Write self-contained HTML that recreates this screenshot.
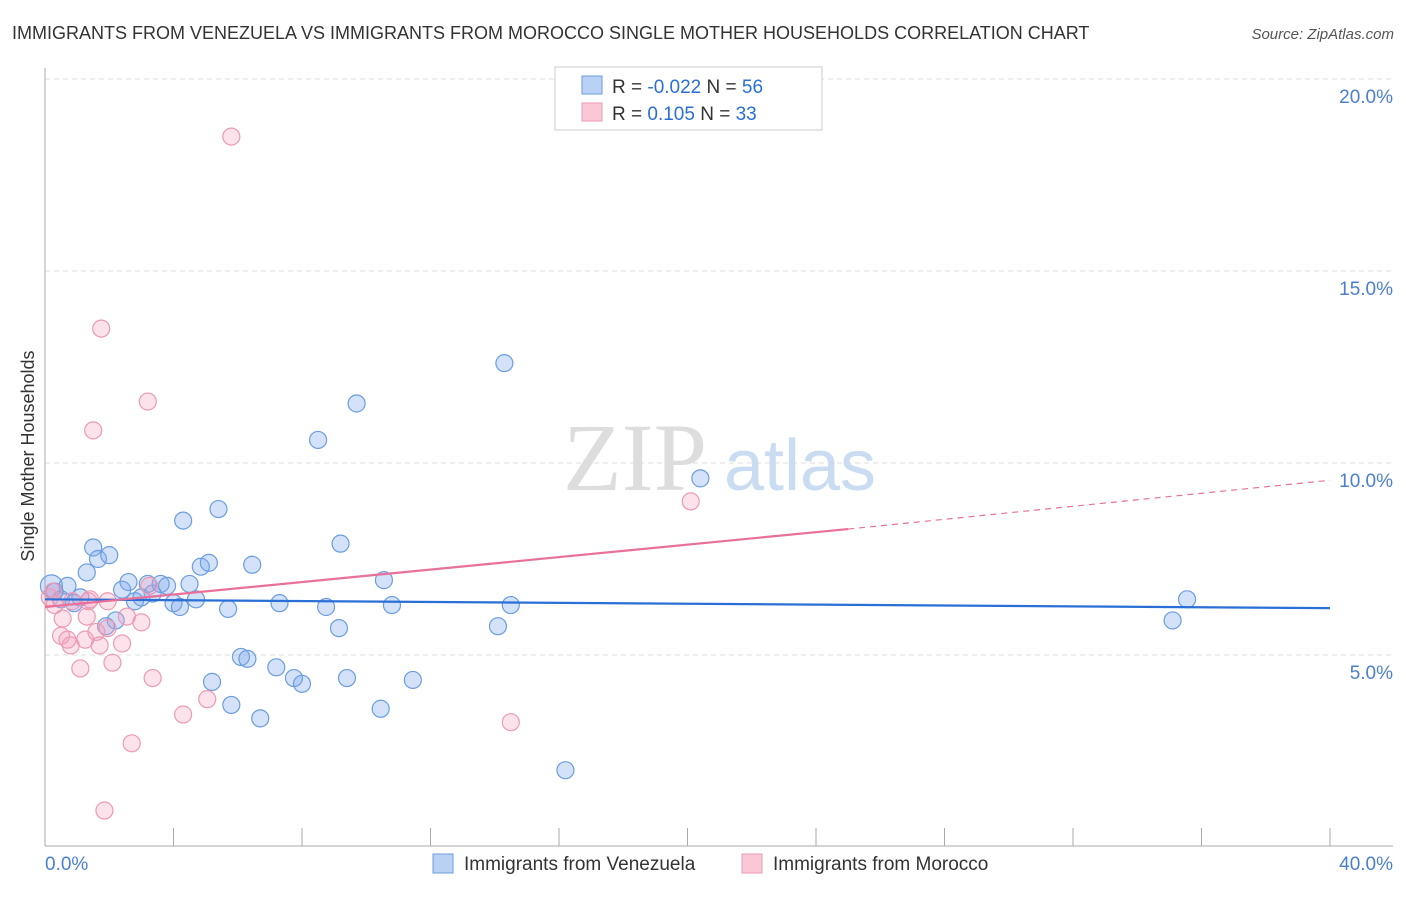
<!DOCTYPE html>
<html><head><meta charset="utf-8">
<style>
body{margin:0;background:#fff;font-family:"Liberation Sans",sans-serif;}
</style></head>
<body>
<svg id="chart" width="1406" height="892" xmlns="http://www.w3.org/2000/svg" style="font-family:'Liberation Sans',sans-serif">
<text x="12" y="39" font-size="18" fill="#333">IMMIGRANTS FROM VENEZUELA VS IMMIGRANTS FROM MOROCCO SINGLE MOTHER HOUSEHOLDS CORRELATION CHART</text>
<text x="1394" y="39" font-size="15" fill="#555" font-style="italic" text-anchor="end">Source: ZipAtlas.com</text>
<g id="grid"></g>
<g><text x="635" y="490" font-size="96" font-family="'Liberation Serif',serif" fill="#ddd" text-anchor="middle">ZIP</text><text x="800" y="490" font-size="72" fill="#c9dcf2" text-anchor="middle">atlas</text></g>
<text transform="translate(34,456) rotate(-90)" font-size="18" fill="#333" text-anchor="middle">Single Mother Households</text>
<g id="marks"></g>
<g>
<rect x="555" y="67" width="267" height="63" fill="#fff" stroke="#ccc"/>
<rect x="582" y="76" width="20" height="18" fill="#b8d1f5" stroke="#6b9de0"/>
<rect x="582" y="103" width="20" height="18" fill="#f9c8d7" stroke="#ec9ab4"/>
<text x="612" y="93" font-size="19" fill="#333">R = <tspan fill="#2a6fd6">-0.022</tspan>   N = <tspan fill="#2a6fd6">56</tspan></text>
<text x="612" y="120" font-size="19" fill="#333">R =   <tspan fill="#2a6fd6">0.105</tspan>   N = <tspan fill="#2a6fd6">33</tspan></text>
</g>
<g>
<rect x="433" y="854" width="20" height="19" fill="#b8d1f5" stroke="#6b9de0"/>
<text x="464" y="870" font-size="19" fill="#333">Immigrants from Venezuela</text>
<rect x="742" y="854" width="20" height="19" fill="#f9c8d7" stroke="#ec9ab4"/>
<text x="773" y="870" font-size="19" fill="#333">Immigrants from Morocco</text>
</g>
</svg>
<script>
const yTicks=[5,10,15,20];
const xTickLabels=["0.0%","40.0%"];
const venX=[0.2,0.3,0.5,0.7,0.9,1.1,1.3,1.5,1.65,2.0,2.2,1.9,2.4,2.6,2.8,3.0,3.2,3.35,3.6,3.8,4.0,4.2,4.3,4.5,4.7,4.85,5.1,5.4,5.7,5.2,5.8,6.1,6.3,6.45,6.7,7.2,7.3,7.75,8.0,8.5,8.75,9.2,9.15,9.4,9.7,10.45,10.55,10.8,11.45,14.1,14.3,14.5,16.2,20.4,35.1,35.55];
const venY=[6.8,6.65,6.45,6.8,6.35,6.5,7.15,7.8,7.5,7.6,5.9,5.75,6.7,6.9,6.4,6.5,6.85,6.6,6.85,6.8,6.35,6.25,8.5,6.85,6.45,7.3,7.4,8.8,6.2,4.3,3.7,4.95,4.9,7.35,3.35,4.68,6.35,4.4,4.25,10.6,6.25,7.9,5.7,4.4,11.55,3.6,6.95,6.3,4.35,5.75,12.6,6.3,2.0,9.6,5.9,6.45];
const morX=[0.15,0.3,0.55,0.5,0.7,0.8,0.85,1.1,1.25,1.3,1.4,1.5,1.6,1.7,1.75,1.85,1.95,2.1,2.4,2.55,2.7,3.0,3.2,3.25,3.35,4.3,5.05,5.8,14.5,20.1,0.25,1.35,1.95];
const morY=[6.5,6.3,5.95,5.5,5.4,5.25,6.4,4.65,5.4,6.0,6.45,10.85,5.6,5.25,13.5,0.95,5.7,4.8,5.3,6.0,2.7,5.85,11.6,6.8,4.4,3.45,3.85,18.5,3.25,9.0,6.65,6.4,6.4];
const venTrend=[6.45,6.22];
const morTrendSolid=[6.25,8.28];
const morTrendEnd=[25,9.55];
const X0=45,X1=1330,Y0=847,YP=38.4;
function sx(v){return X0+(X1-X0)*v/40;}
function sy(v){return Y0-v*YP;}
const NS="http://www.w3.org/2000/svg";
const svg=document.getElementById('chart');
const grid=document.getElementById('grid');
const marks=document.getElementById('marks');
function mk(tag,attrs,parent){const e=document.createElementNS(NS,tag);for(const k in attrs)e.setAttribute(k,attrs[k]);parent.appendChild(e);return e;}
yTicks.forEach(t=>{
 const l=mk('line',{x1:X0,x2:1393,y1:sy(t),y2:sy(t),stroke:'#ddd','stroke-dasharray':'5,4'},grid);
 
 
 const tx=mk('text',{x:1393,y:sy(t)+24,'font-size':19,fill:'#4a7fd0','text-anchor':'end'},grid);
 tx.textContent=t.toFixed(1)+'%';
 
 
});
const ax=mk('line',{x1:X0,x2:X0,y1:68,y2:846,stroke:'#aaa'},grid);


const bx=mk('line',{x1:X0,x2:1393,y1:846,y2:846,stroke:'#aaa'},grid);


for(let i=0;i<=10;i++){
 const t=mk('line',{x1:sx(i*4),x2:sx(i*4),y1:828,y2:846,stroke:'#aaa'},grid);
 
 
}
[[0,'start',45],[40,'end',1393]].forEach((d,i)=>{
 const tx=mk('text',{x:d[2],y:870,'font-size':19,fill:'#4a7fd0','text-anchor':d[1]},grid);
 tx.textContent=xTickLabels[i];
 
 
});
venX.forEach((x,i)=>{
 const c=mk('circle',{cx:sx(x),cy:sy(venY[i]),r:i==0?11:8.5,fill:'rgba(120,165,235,0.32)',stroke:'#6b9de0','stroke-width':1.2},marks);
 
 
});
morX.forEach((x,i)=>{
 const c=mk('circle',{cx:sx(x),cy:sy(morY[i]),r:8.5,fill:'rgba(245,160,190,0.3)',stroke:'#ec9ab4','stroke-width':1.2},marks);
 
 
});
let l=mk('line',{x1:sx(0),y1:sy(venTrend[0]),x2:sx(40),y2:sy(venTrend[1]),stroke:'#2a6fd6','stroke-width':2.2},marks);


l=mk('line',{x1:sx(0),y1:sy(morTrendSolid[0]),x2:sx(morTrendEnd[0]),y2:sy(morTrendSolid[1]),stroke:'#e8709a','stroke-width':2.2},marks);


l=mk('line',{x1:sx(morTrendEnd[0]),y1:sy(morTrendSolid[1]),x2:sx(40),y2:sy(morTrendEnd[1]),stroke:'#e8709a','stroke-width':1.2,'stroke-dasharray':'6,5'},marks);


</script>
</body></html>
